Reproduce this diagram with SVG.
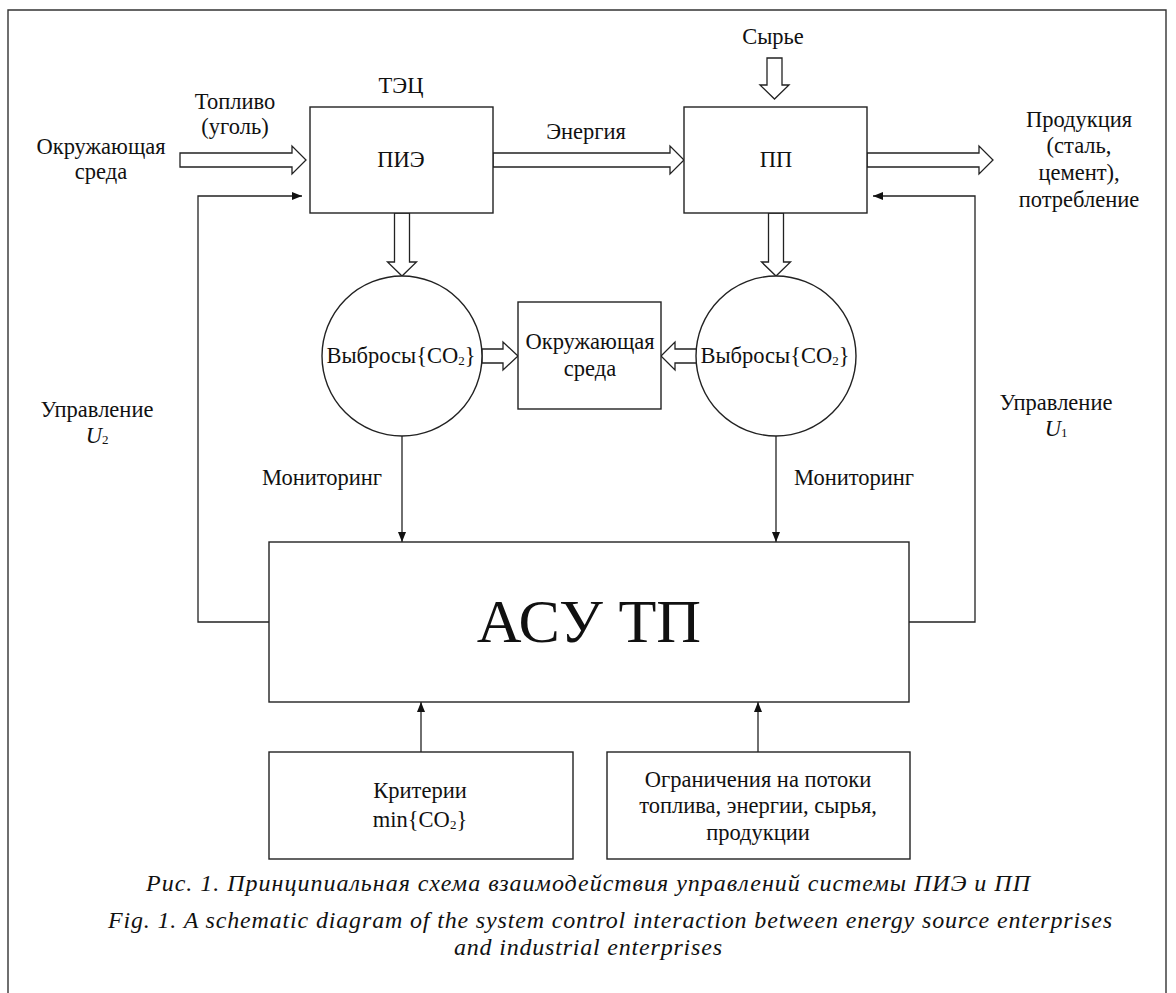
<svg xmlns="http://www.w3.org/2000/svg" width="1176" height="993" viewBox="0 0 1176 993">
<defs>
<marker id="ah" viewBox="0 0 10 10" refX="10" refY="5" markerWidth="10" markerHeight="10" markerUnits="userSpaceOnUse" orient="auto">
<path d="M0,1 L10,5 L0,9 Z" fill="#111"/>
</marker>
<style>
text{font-family:"Liberation Serif","Times New Roman",serif;font-size:22.5px;fill:#111;text-anchor:middle}
.box{fill:#fff;stroke:#222;stroke-width:1.4}
.hollow{fill:#fff;stroke:#222;stroke-width:1.3}
.thin{fill:none;stroke:#222;stroke-width:1.3}
.cap{font-style:italic;font-size:24px}
.big{font-size:62px}
.it{font-style:italic}
.sub{font-size:13px}
</style>
</defs>
<rect width="1176" height="993" fill="#fff"/>
<path d="M8,993 V10 H1166 V993" fill="none" stroke="#333" stroke-width="1.4"/>

<g id="connectors">
<polygon class="hollow" points="180,153 292,153 292,146 306,160 292,174 292,167 180,167"/>
<polygon class="hollow" points="493,153 670,153 670,146 684,160 670,174 670,167 493,167"/>
<polygon class="hollow" points="867,153 979,153 979,146 993,160 979,174 979,167 867,167"/>
<polygon class="hollow" points="767,58 782,58 782,85 789,85 774.5,99 760,85 767,85"/>
<polygon class="hollow" points="394.5,213 409.5,213 409.5,262 416.5,262 402,276 387.5,262 394.5,262"/>
<polygon class="hollow" points="768.5,213 783.5,213 783.5,262 790.5,262 776,276 761.5,262 768.5,262"/>
<polygon class="hollow" points="482,349 503,349 503,342 518,356 503,370 503,363 482,363"/>
<polygon class="hollow" points="697,349 675,349 675,342 661,356 675,370 675,363 697,363"/>
<line class="thin" x1="402" y1="436" x2="402" y2="542" marker-end="url(#ah)"/>
<line class="thin" x1="776" y1="436" x2="776" y2="542" marker-end="url(#ah)"/>
<path class="thin" d="M269,622 H198 V196 H302" marker-end="url(#ah)"/>
<path class="thin" d="M909,622 H975 V196 H873" marker-end="url(#ah)"/>
<line class="thin" x1="421" y1="752" x2="421" y2="702" marker-end="url(#ah)"/>
<line class="thin" x1="758" y1="752" x2="758" y2="702" marker-end="url(#ah)"/>
</g>

<g id="pie">
<rect class="box" x="310" y="107" width="183" height="106"/>
<text x="401" y="167">ПИЭ</text>
</g>
<g id="pp">
<rect class="box" x="684" y="107" width="183" height="106"/>
<text x="776" y="167">ПП</text>
</g>
<g id="emis1">
<circle class="box" cx="402" cy="356" r="80"/>
<text x="401" y="363">Выбросы{CO<tspan class="sub" dy="2">2</tspan><tspan dy="-2">}</tspan></text>
</g>
<g id="env">
<rect class="box" x="518" y="302" width="143" height="107"/>
<text x="590" y="349">Окружающая</text>
<text x="590" y="376">среда</text>
</g>
<g id="emis2">
<circle class="box" cx="776" cy="356" r="80"/>
<text x="775" y="363">Выбросы{CO<tspan class="sub" dy="2">2</tspan><tspan dy="-2">}</tspan></text>
</g>
<g id="asu">
<rect class="box" x="269" y="542" width="640" height="160"/>
<text class="big" x="589" y="642">АСУ ТП</text>
</g>
<g id="crit">
<rect class="box" x="269" y="752" width="304" height="107"/>
<text x="420" y="798">Критерии</text>
<text x="420" y="827">min{CO<tspan class="sub" dy="2">2</tspan><tspan dy="-2">}</tspan></text>
</g>
<g id="limits">
<rect class="box" x="607" y="752" width="303" height="107"/>
<text x="758" y="787">Ограничения на потоки</text>
<text x="758" y="813">топлива, энергии, сырья,</text>
<text x="758" y="840">продукции</text>
</g>

<g id="labels">
<text x="401" y="93">ТЭЦ</text>
<text x="235" y="109">Топливо</text>
<text x="235" y="134">(уголь)</text>
<text x="101" y="154">Окружающая</text>
<text x="101" y="179">среда</text>
<text x="586" y="139">Энергия</text>
<text x="773" y="44">Сырье</text>
<text x="1079" y="127">Продукция</text>
<text x="1079" y="153">(сталь,</text>
<text x="1079" y="180">цемент),</text>
<text x="1079" y="207">потребление</text>
<text x="97" y="417">Управление</text>
<text x="97" y="443"><tspan class="it">U</tspan><tspan class="sub" dy="1">2</tspan></text>
<text x="1056" y="410">Управление</text>
<text x="1056" y="436"><tspan class="it">U</tspan><tspan class="sub" dy="1">1</tspan></text>
<text x="322" y="485">Мониторинг</text>
<text x="854" y="485">Мониторинг</text>
</g>

<g id="caption">
<text class="cap" x="588" y="891" textLength="884" lengthAdjust="spacing">Рис. 1. Принципиальная схема взаимодействия управлений системы ПИЭ и ПП</text>
<text class="cap" x="610" y="928" textLength="1004" lengthAdjust="spacing">Fig. 1. A schematic diagram of the system control interaction between energy source enterprises</text>
<text class="cap" x="588" y="955" textLength="268" lengthAdjust="spacing">and industrial enterprises</text>
</g>
</svg>
